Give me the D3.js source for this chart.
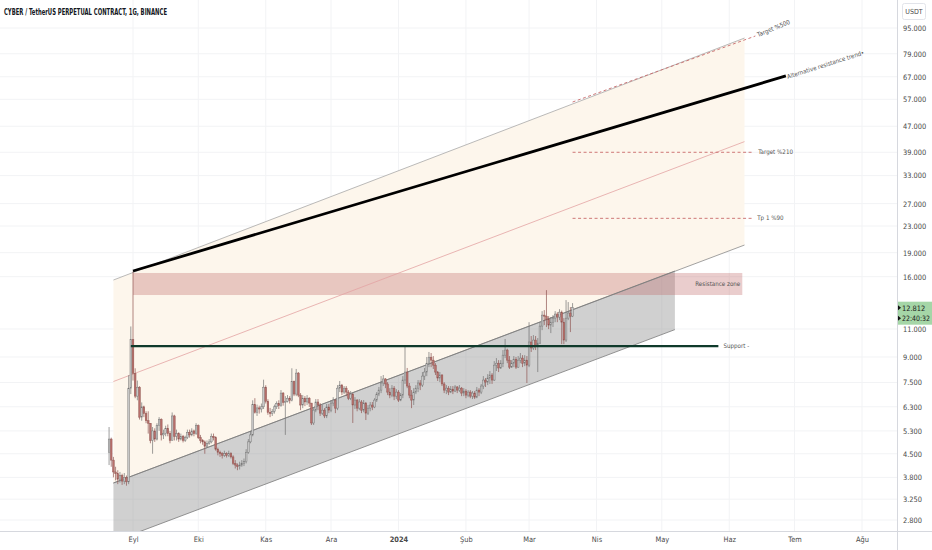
<!DOCTYPE html>
<html><head><meta charset="utf-8">
<script src="https://cdn.jsdelivr.net/npm/d3@7"></script>
<style>
body{margin:0;background:#fff}
svg{display:block}
text{font-family:"Liberation Sans Narrow","DejaVu Sans Condensed","Liberation Sans",Arial,sans-serif}
</style>
</head><body>
<svg id="c" width="932" height="550"></svg>
<script>
// ---------------- DATA ----------------
const title = "CYBER / TetherUS PERPETUAL CONTRACT, 1G, BINANCE";
const startDate = "2023-08-21";
const firstOpen = 4.55;
const closes = [
5.00,4.30,3.95,3.90,3.75,3.85,3.70,3.80,3.68,7.20,
10.20,8.00,6.80,7.25,5.85,6.30,6.00,5.70,5.60,4.95,
5.30,5.00,5.50,5.75,5.15,5.20,5.40,5.20,4.95,5.90,
5.10,5.20,5.00,5.10,4.95,5.05,5.25,5.15,5.30,5.20,
5.50,5.05,4.95,4.90,4.75,4.85,4.90,5.10,5.05,4.65,
4.55,4.50,4.45,4.50,4.45,4.50,4.40,4.20,4.15,4.10,
4.15,4.20,4.25,4.55,4.90,5.15,6.40,6.05,6.25,6.20,
6.30,7.25,6.55,6.05,6.00,6.10,6.30,6.45,6.35,6.95,
6.50,6.55,6.70,6.60,7.55,6.90,8.02,6.85,6.38,6.70,
6.52,6.70,6.47,5.61,6.15,6.52,6.38,6.02,6.15,5.90,
6.29,6.15,6.47,6.61,6.24,7.20,7.36,7.00,7.20,7.00,
6.70,6.90,6.38,6.61,6.24,6.52,6.15,6.47,6.02,6.24,
6.38,6.29,6.61,6.90,7.10,7.47,7.69,7.42,7.00,6.85,
7.20,6.80,7.00,6.61,6.85,7.63,8.08,7.31,6.85,6.61,
7.00,7.20,7.47,7.36,7.85,8.08,8.61,8.99,8.80,8.49,
8.08,7.74,7.91,7.42,7.10,7.20,7.00,7.15,7.05,7.26,
7.10,7.20,6.95,7.05,6.85,7.00,6.80,6.95,6.75,7.10,
7.00,7.31,7.63,7.52,7.74,7.91,7.63,8.49,8.61,8.32,
8.61,9.12,9.46,8.80,8.37,8.61,8.86,8.37,8.80,8.93,
8.61,8.80,8.49,10.02,9.60,10.16,9.80,9.94,11.23,12.15,
12.06,11.80,11.31,11.55,11.89,12.24,11.98,12.41,11.55,10.16,
11.89,12.33,12.06,12.812];
const highs = [
5.45,5.05,4.40,4.10,4.00,3.95,3.90,3.92,3.85,7.90,
11.20,16.60,8.30,7.60,7.30,6.50,6.35,6.10,6.10,5.60,
5.45,5.40,5.60,5.85,5.80,5.35,5.50,5.55,5.30,6.05,
5.95,5.35,5.25,5.20,5.15,5.12,5.35,5.35,5.40,5.35,
5.60,5.55,5.15,5.00,4.95,4.95,5.00,5.20,5.20,5.10,
4.70,4.60,4.55,4.60,4.55,4.60,4.55,4.45,4.30,4.20,
4.25,4.30,4.35,4.65,5.00,5.30,6.60,6.70,6.40,6.35,
6.45,7.65,7.35,6.65,6.25,6.20,6.40,6.55,6.60,7.10,
7.00,6.80,6.85,6.80,8.30,7.60,8.26,8.08,6.95,6.85,
6.80,6.85,6.75,6.47,6.24,6.66,6.66,6.47,6.38,6.24,
6.43,6.43,6.61,6.75,6.66,7.36,7.58,7.42,7.31,7.31,
7.10,7.05,6.95,6.75,6.66,6.66,6.61,6.61,6.52,6.38,
6.52,6.52,6.70,7.00,7.26,7.85,7.91,7.74,7.52,7.20,
7.36,7.31,7.15,7.10,6.95,7.85,9.73,8.32,7.47,7.10,
7.20,7.36,7.63,7.63,8.08,8.32,9.00,9.33,9.26,9.06,
8.61,8.14,8.08,7.96,7.52,7.36,7.31,7.31,7.31,7.36,
7.31,7.36,7.26,7.20,7.15,7.10,7.10,7.05,7.05,7.26,
7.20,7.42,7.85,7.74,7.96,8.14,8.02,8.74,8.93,8.80,
8.80,9.46,10.24,9.55,9.06,8.80,9.06,9.00,9.06,9.26,
9.12,9.12,9.06,11.55,10.46,10.53,10.46,10.31,11.55,12.50,
12.59,14.53,12.06,11.98,12.15,12.50,12.41,12.68,12.55,11.89,
13.53,13.34,12.87,13.24];
const lows = [
4.15,4.10,3.80,3.72,3.62,3.66,3.60,3.62,3.58,3.62,
6.90,7.60,6.70,6.60,5.75,5.70,5.85,5.60,5.20,4.85,
4.50,4.90,4.95,5.30,4.95,5.00,5.10,5.10,4.85,4.95,
4.95,4.95,4.90,4.95,4.88,4.90,5.00,5.05,5.10,5.10,
5.15,5.00,4.85,4.80,4.50,4.70,4.80,4.85,4.95,4.60,
4.45,4.40,4.35,4.40,4.38,4.40,4.35,4.15,4.05,4.00,
4.02,4.10,4.12,4.20,4.50,4.85,5.10,6.00,5.90,6.00,
6.05,6.20,6.45,5.95,5.85,5.90,6.00,6.20,6.20,6.30,
6.35,5.15,6.50,6.45,6.55,6.80,6.80,6.75,6.15,6.24,
6.33,6.38,6.29,5.53,5.53,6.06,6.15,5.90,5.94,5.81,
5.81,6.02,6.06,6.33,6.02,6.15,7.00,6.85,6.90,6.80,
6.61,6.61,5.61,6.20,6.10,6.15,6.02,6.06,5.73,5.94,
6.10,6.15,6.24,6.52,6.80,6.95,7.31,7.20,6.85,6.70,
6.75,6.61,6.66,6.52,6.56,6.70,7.42,7.20,6.70,6.24,
6.38,6.90,7.00,7.10,7.26,7.63,7.85,8.37,8.37,8.26,
7.91,7.58,7.52,7.31,6.95,6.90,6.85,6.95,6.90,7.00,
6.95,7.00,6.80,6.80,6.70,6.75,6.70,6.66,6.66,6.70,
6.80,6.90,7.15,7.26,7.36,7.42,7.42,7.58,8.14,8.08,
8.26,8.37,8.93,8.61,8.26,8.32,8.37,8.26,8.32,8.61,
8.37,8.43,7.47,8.37,9.33,9.46,9.46,8.08,9.87,10.91,
11.31,11.15,10.99,10.68,11.15,11.55,11.55,11.72,9.87,9.87,
10.02,11.72,10.76,11.98];

const yTicks = [95,79,67,57,47,39,33,27,23,19,16,11,9,7.5,6.3,5.3,4.5,3.8,3.25,2.8];
const monthTicks = ["2023-09-01","2023-10-01","2023-11-01","2023-12-01","2024-01-01","2024-02-01","2024-03-01","2024-04-01","2024-05-01","2024-06-01","2024-07-01","2024-08-01"];
const monthLabels = ["Eyl","Eki","Kas","Ara","2024","Şub","Mar","Nis","May","Haz","Tem","Ağu"];
const lastPrice = 12.812;
const countdown = "22:40:32";

// drawings (date, price)
const channelUpper = [["2023-08-23",15.62],["2024-06-08",88.4]];
const channelMid   = [["2023-08-23",7.55],["2024-06-08",42.1]];
const channelLower = [["2023-08-23",3.65],["2024-06-08",20.07]];
const grayUpper = [["2023-08-23",3.65],["2024-05-07",16.66]];
const grayLower = [["2023-08-23",2.40],["2024-05-07",10.95]];
const resistanceZone = [["2023-09-01",16.43],["2024-06-07",14.03]];
const supportLine = [["2023-08-31",9.73],["2024-05-27",9.73]];
const altTrend = [["2023-09-01",16.66],["2024-06-27",67.4]];
const target500 = [["2024-03-21",55.9],["2024-06-13",89.7]];
const target210 = [["2024-03-21",39.0],["2024-06-12",39.0]];
const tp90 = [["2024-03-21",24.3],["2024-06-12",24.3]];

// ---------------- CHART ----------------
const W = 932, H = 550, plotR = 897, plotB = 531;
const svg = d3.select("#c");
const x = d3.scaleUtc().domain([new Date("2023-09-01"), new Date("2024-08-01")]).range([133, 862]);
const y = d3.scaleLog().domain([2.8, 95]).range([520, 28]);
const P = d => [x(new Date(d[0])), y(d[1])];

svg.append("defs").append("clipPath").attr("id","plot")
  .append("rect").attr("x",0).attr("y",0).attr("width",plotR).attr("height",plotB);

// grid
const grid = svg.append("g");
grid.selectAll("line.h").data(yTicks).join("line")
  .attr("x1",0).attr("x2",plotR).attr("y1",d=>y(d)).attr("y2",d=>y(d))
  .attr("stroke","#f2f3f5").attr("stroke-width",1);
grid.selectAll("line.v").data(monthTicks).join("line")
  .attr("y1",0).attr("y2",plotB).attr("x1",d=>x(new Date(d))).attr("x2",d=>x(new Date(d)))
  .attr("stroke","#f2f3f5").attr("stroke-width",1);

const g = svg.append("g").attr("clip-path","url(#plot)");

// orange channel fill
const cu = channelUpper.map(P), cm = channelMid.map(P), cl = channelLower.map(P);
g.append("polygon").attr("points",[cu[0],cu[1],cl[1],cl[0]].map(p=>p.join(",")).join(" "))
  .attr("fill","#fdf6ec");
// gray channel fill
const gu = grayUpper.map(P), gl = grayLower.map(P);
g.append("polygon").attr("points",[gu[0],gu[1],gl[1],gl[0]].map(p=>p.join(",")).join(" "))
  .attr("fill","rgba(150,150,150,0.45)");

// resistance zone
const rz = resistanceZone.map(P);
g.append("rect").attr("x",rz[0][0]).attr("y",rz[0][1]).attr("width",rz[1][0]-rz[0][0]).attr("height",rz[1][1]-rz[0][1])
  .attr("fill","rgba(190,100,100,0.32)");

// channel lines
const line = (pts, stroke, w, dash) => g.append("line")
  .attr("x1",pts[0][0]).attr("y1",pts[0][1]).attr("x2",pts[1][0]).attr("y2",pts[1][1])
  .attr("stroke",stroke).attr("stroke-width",w).attr("stroke-dasharray",dash||null);
line(cu,"#a8a8a8",0.8);
line(cm,"#e3a3a3",0.8);
line(cl,"#8a8a8a",0.8);
line(gu,"#7a7a7a",0.8);
line(gl,"#7a7a7a",0.8);

// candles
const start = new Date(startDate);
const candles = closes.map((c,i)=>({
  date: d3.utcDay.offset(start,i),
  o: i===0 ? firstOpen : closes[i-1], c, h: highs[i], l: lows[i]
}));
const cg = g.append("g");
candles.forEach(d=>{
  const xc = x(d.date), up = d.c >= d.o;
  const wick = up ? "#747474" : "#8f5551";
  cg.append("line").attr("x1",xc).attr("x2",xc).attr("y1",y(d.h)).attr("y2",y(d.l))
    .attr("stroke",wick).attr("stroke-width",0.7);
  const top = y(Math.max(d.o,d.c)), bot = y(Math.min(d.o,d.c));
  cg.append("rect").attr("x",xc-0.85).attr("width",1.7).attr("y",top).attr("height",Math.max(0.8,bot-top))
    .attr("fill", up ? "#c9c9c9" : "#b96f6b").attr("stroke", wick).attr("stroke-width",0.45);
});

// support line
const sp = supportLine.map(P);
line(sp,"#0f3a2b",2.4);
// alternative resistance trend
const at = altTrend.map(P);
line(at,"#000",2.8);
// targets
const t5 = target500.map(P), t2 = target210.map(P), t9 = tp90.map(P);
line(t5,"#c86a6a",0.9,"3,2.5");
line(t2,"#c86a6a",0.9,"3,2.5");
line(t9,"#c86a6a",0.9,"3,2.5");

// annotation labels
const ann = svg.append("g").attr("fill","#555").attr("font-size",6.2);
const angle = pts => Math.atan2(pts[1][1]-pts[0][1], pts[1][0]-pts[0][0])*180/Math.PI;
ann.append("text").attr("transform",`translate(${t5[1][0]+3},${t5[1][1]+1}) rotate(${angle(t5)-3})`).text("Target %500");
ann.append("text").attr("x",t2[1][0]+5).attr("y",t2[1][1]+2).text("Target %210");
ann.append("text").attr("x",t9[1][0]+4).attr("y",t9[1][1]+2).text("Tp 1  %90");
ann.append("text").attr("transform",`translate(${at[1][0]+2},${at[1][1]+3}) rotate(${angle(at)-1})`).text("Alternative resistance trend•");
ann.append("text").attr("x",rz[1][0]-2).attr("y",(rz[0][1]+rz[1][1])/2+2).attr("text-anchor","end").text("Resistance zone");
ann.append("text").attr("x",sp[1][0]+5).attr("y",sp[1][1]+2).text("Support -");

// axes frame
svg.append("line").attr("x1",0).attr("x2",W).attr("y1",plotB+0.5).attr("y2",plotB+0.5).attr("stroke","#d6d8de");
svg.append("line").attr("x1",plotR+0.5).attr("x2",plotR+0.5).attr("y1",0).attr("y2",H).attr("stroke","#d6d8de");

// right axis
const yAxis = svg.append("g").attr("transform",`translate(${plotR+3},0)`)
  .call(d3.axisRight(y).tickValues(yTicks).tickFormat(d3.format(".3f")).tickSize(0).tickPadding(3));
yAxis.select(".domain").remove();
yAxis.selectAll("text").attr("font-size",7.4).attr("fill","#4a4a4a")
  .attr("font-family",'"Liberation Sans Narrow","DejaVu Sans Condensed","Liberation Sans",sans-serif');

// USDT box
svg.append("rect").attr("x",902.5).attr("y",3.5).attr("width",23).attr("height",16).attr("rx",2)
  .attr("fill","#fff").attr("stroke","#e2e4ea");
svg.append("text").attr("x",914).attr("y",14).attr("text-anchor","middle").attr("font-size",7).attr("fill","#4a4a4a").text("USDT");

// last price label
const ly = y(lastPrice);
svg.append("rect").attr("x",plotR+1).attr("y",ly-6).attr("width",W-plotR-1).attr("height",23).attr("fill","#a5d6a7");
svg.append("path").attr("d",`M${plotR+1},${ly-2.5} L${plotR+4},${ly} L${plotR+1},${ly+2.5}Z`).attr("fill","#111");
svg.append("path").attr("d",`M${plotR+1},${ly+8} L${plotR+4},${ly+10.5} L${plotR+1},${ly+13}Z`).attr("fill","#111");
svg.append("text").attr("x",plotR+5).attr("y",ly+3).attr("font-size",7.4).attr("fill","#1a1a1a").text(d3.format(".3f")(lastPrice));
svg.append("text").attr("x",plotR+5).attr("y",ly+13.5).attr("font-size",7.4).attr("fill","#1a1a1a")
  .attr("textLength",W-plotR-7).attr("lengthAdjust","spacingAndGlyphs").text(countdown);

// bottom axis
const xAxis = svg.append("g").attr("transform",`translate(0,${plotB})`)
  .call(d3.axisBottom(x).tickValues(monthTicks.map(d=>new Date(d))).tickFormat((d,i)=>monthLabels[i]).tickSize(0).tickPadding(6));
xAxis.select(".domain").remove();
xAxis.selectAll("text").attr("font-size",7.4).attr("fill","#4a4a4a")
  .attr("font-family",'"Liberation Sans Narrow","DejaVu Sans Condensed","Liberation Sans",sans-serif')
  .attr("font-weight",(d,i)=>monthLabels[i]==="2024"?"bold":null);

// title
svg.append("text").attr("x",4).attr("y",15).attr("font-size",8.6).attr("fill","#131722")
  .attr("font-weight",600).attr("textLength",163).attr("lengthAdjust","spacingAndGlyphs").text(title);
</script>
</body></html>
